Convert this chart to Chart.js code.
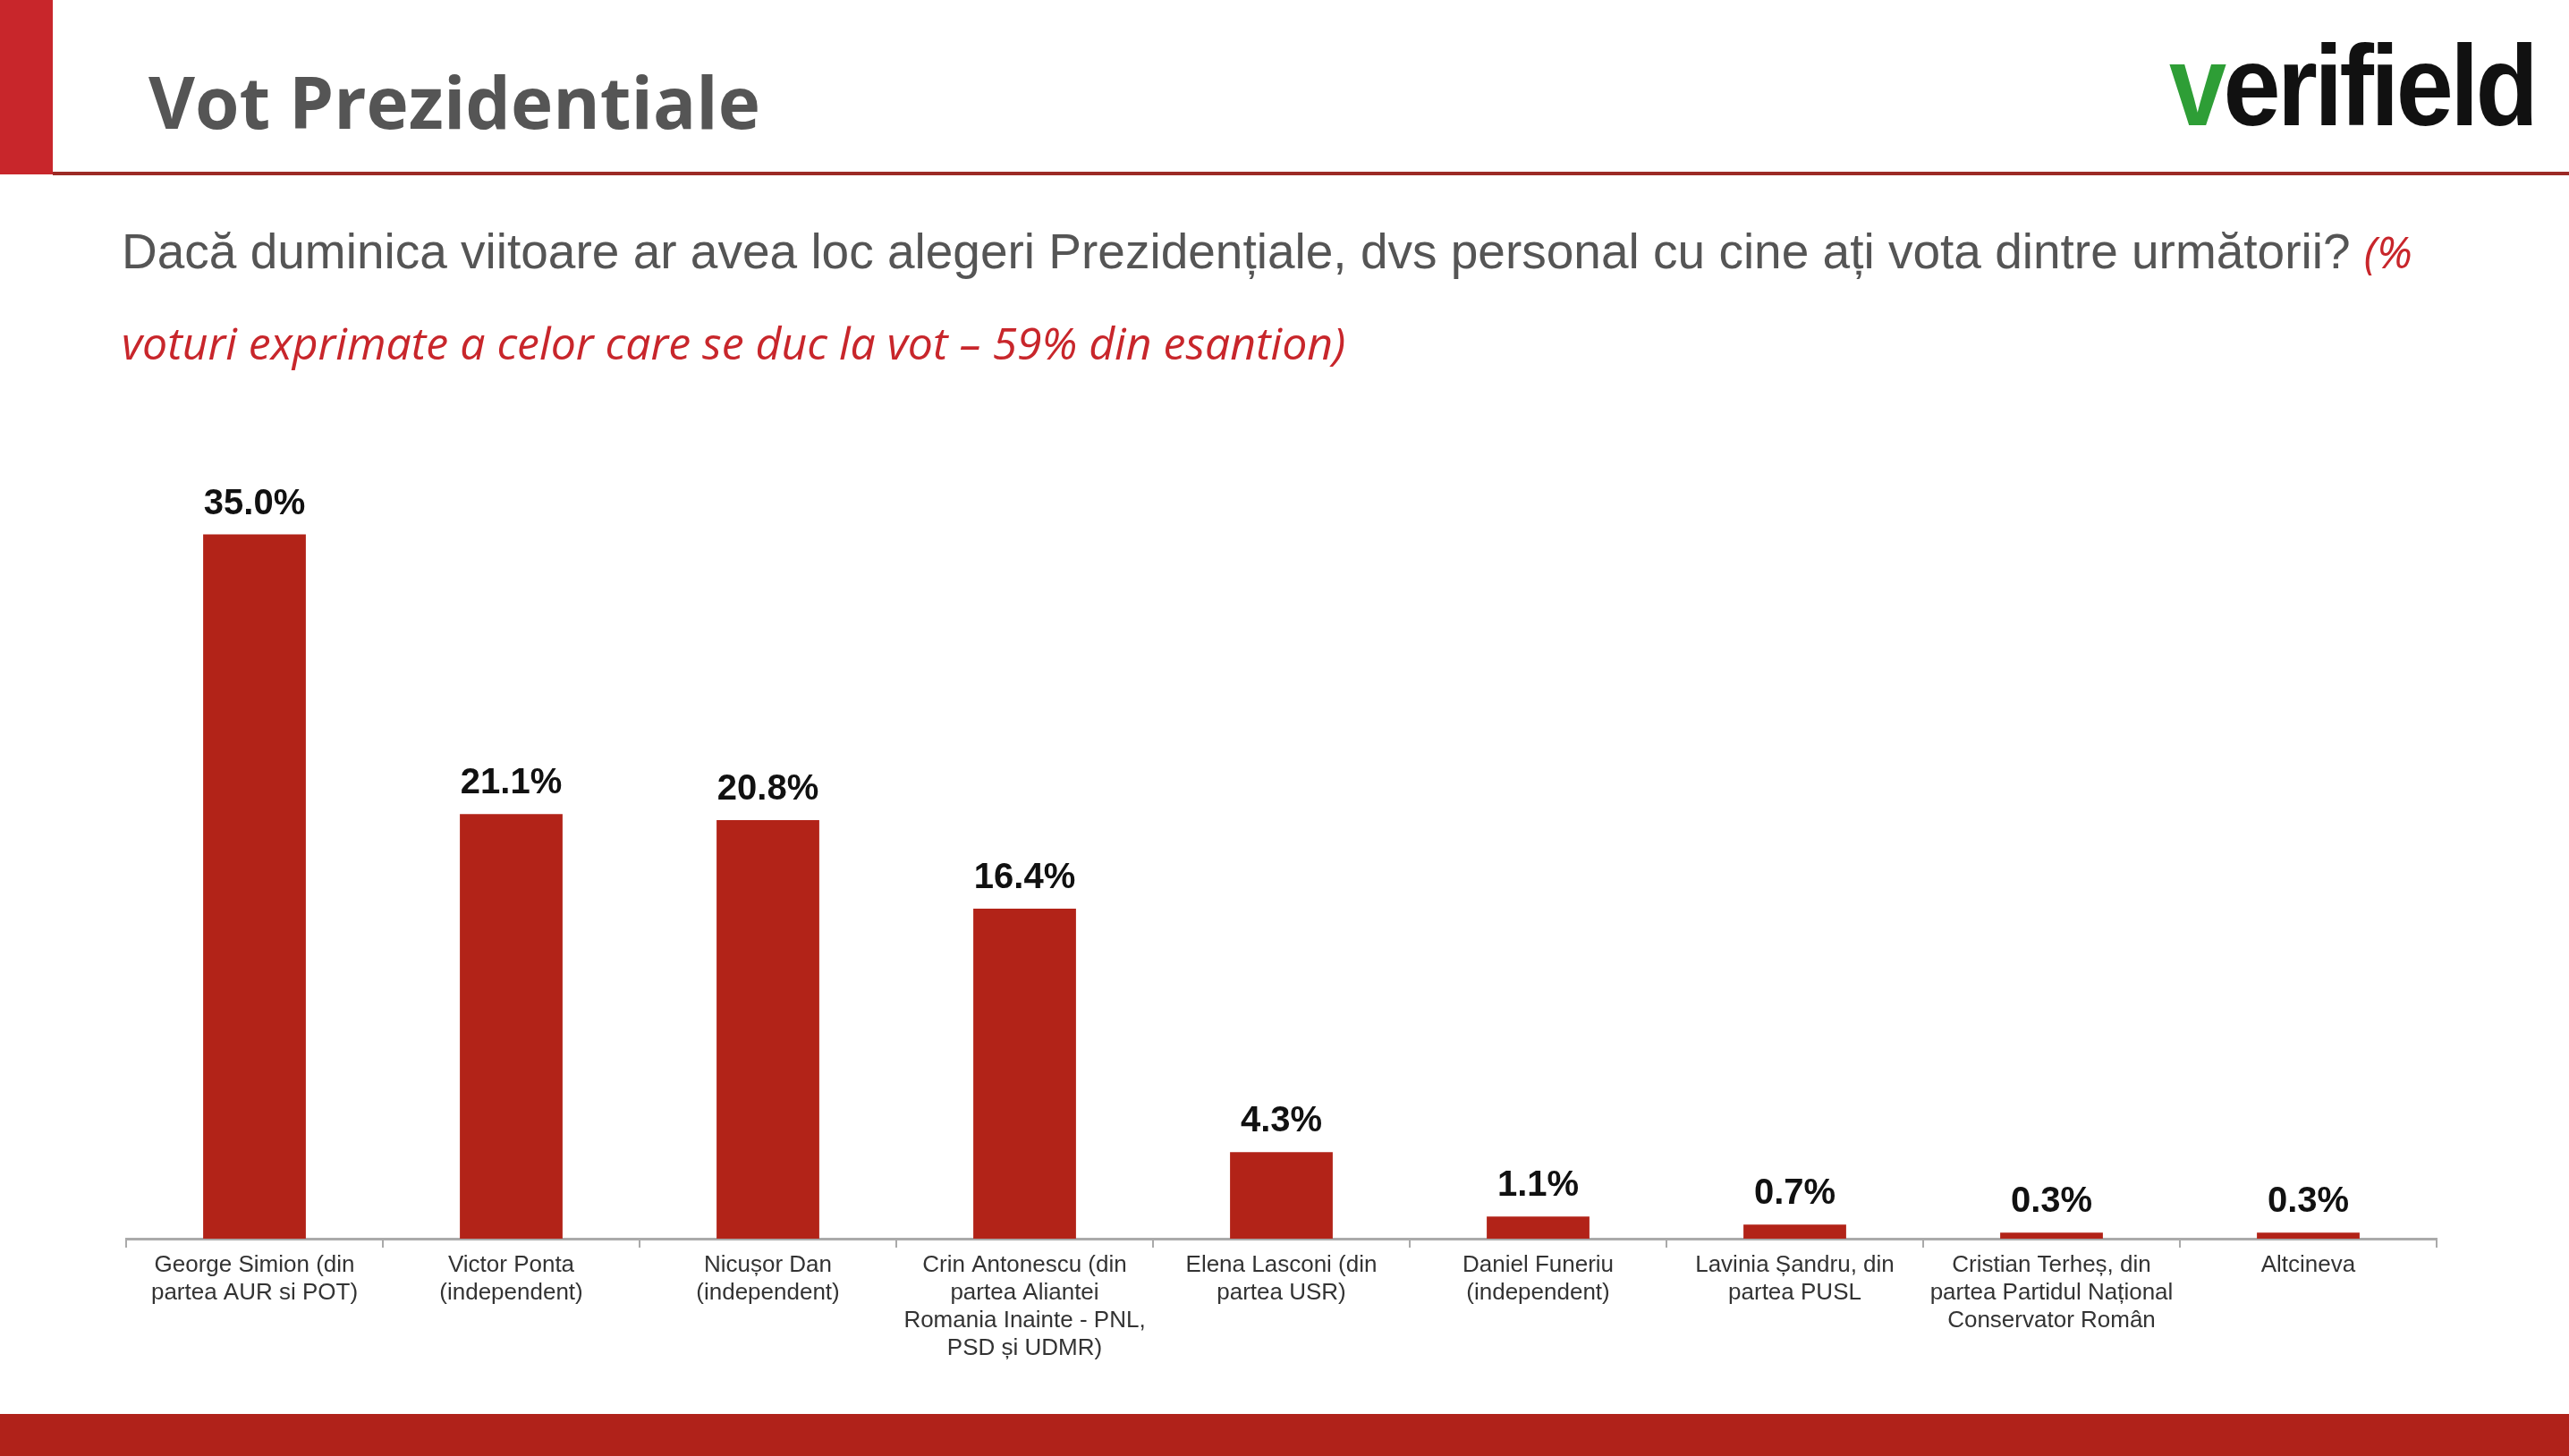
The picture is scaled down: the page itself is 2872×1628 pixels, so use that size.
<!DOCTYPE html>
<html><head><meta charset="utf-8">
<script src="https://cdn.jsdelivr.net/npm/chart.js@4"></script>
<style>
body{margin:0;width:2872px;height:1628px;background:#fff;position:relative;overflow:hidden;font-family:"Liberation Sans",Arial,sans-serif}
#redbar{position:absolute;left:0;top:0;width:59px;height:195px;background:#c8262b}
#hline{position:absolute;left:59px;top:192px;width:2813px;height:4px;background:#9c2a25}
#title{position:absolute;left:166px;top:58px;font:bold 80px "Open Sans",sans-serif;color:#555}
#logo{position:absolute;left:2425px;top:22px;font:bold 128px "Liberation Sans Narrow","Liberation Sans",sans-serif;color:#111;letter-spacing:-4px;transform:scaleX(0.9);transform-origin:left}
#logo span{color:#2e9e36}
#q{position:absolute;left:136px;top:230px;width:2625px;font:55px "Liberation Sans",Arial,sans-serif;color:#555;line-height:102px}
#q i{color:#c8262b;font-family:"Open Sans",sans-serif;font-size:50px}
#foot{position:absolute;left:0;top:1581px;width:2872px;height:47px;background:#b0221a}
#wrap{position:absolute;left:0;top:440px;width:2872px;height:1130px}
</style></head><body>
<div id="redbar"></div><div id="hline"></div>
<div id="title">Vot Prezidentiale</div>
<div id="logo"><span>v</span>erifield</div>
<div id="q">Dacă duminica viitoare ar avea loc alegeri Prezidențiale, dvs personal cu cine ați vota dintre următorii? <i>(% voturi exprimate a celor care se duc la vot – 59% din esantion)</i></div>
<div id="wrap"><canvas id="c"></canvas></div>
<div id="foot"></div>
<script>
const categories=[["George Simion (din","partea AUR si POT)"],["Victor Ponta","(independent)"],["Nicușor Dan","(independent)"],["Crin Antonescu (din","partea Aliantei","Romania Inainte - PNL,","PSD și UDMR)"],["Elena Lasconi (din","partea USR)"],["Daniel Funeriu","(independent)"],["Lavinia Șandru, din","partea PUSL"],["Cristian Terheș, din","partea Partidul Național","Conservator Român"],["Altcineva"]];
const values=[35.0,21.1,20.8,16.4,4.3,1.1,0.7,0.3,0.3];
const labelsPlugin={id:'vals',afterDatasetsDraw(ch){const ctx=ch.ctx;const m=ch.getDatasetMeta(0);ctx.save();ctx.font='bold 40px "Liberation Sans",Arial';ctx.fillStyle='#111';ctx.textAlign='center';ctx.textBaseline='bottom';m.data.forEach((b,i)=>{ctx.fillText(values[i].toFixed(1)+'%',b.x,b.y-14);});ctx.restore();}};
new Chart(document.getElementById('c'),{type:'bar',data:{labels:categories,datasets:[{data:values,backgroundColor:'#b22318',categoryPercentage:1,barPercentage:0.4}]},
options:{responsive:true,maintainAspectRatio:false,animation:false,layout:{padding:{left:141,right:148,top:0,bottom:0}},
plugins:{legend:{display:false},tooltip:{enabled:false}},
scales:{y:{display:false,min:0,max:42},
x:{afterFit:s=>{s.height=185;},border:{color:'#aaa',width:3},grid:{offset:true,drawOnChartArea:false,tickLength:10,color:'#aaa',lineWidth:2},ticks:{maxRotation:0,autoSkip:false,color:'#333',font:{size:26,family:'"Liberation Sans",Arial'},padding:4}}}},
plugins:[labelsPlugin]});
</script></body></html>
